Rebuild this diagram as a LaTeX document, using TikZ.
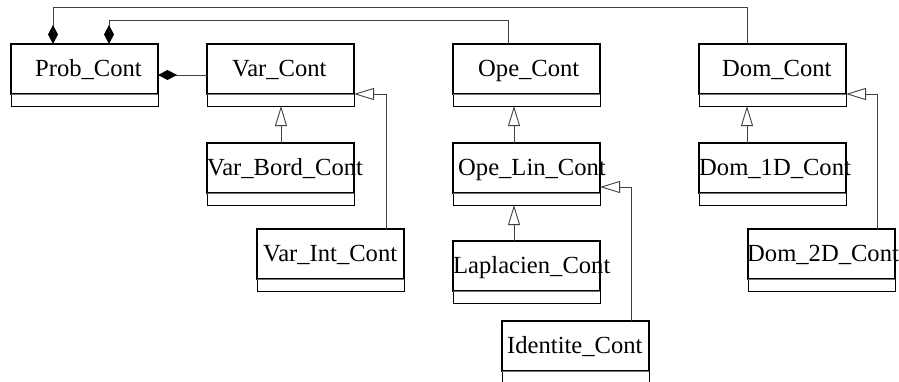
\documentclass[tikz,border=0pt]{standalone}
\usepackage{fontspec}
\setmainfont{Liberation Serif}
\usetikzlibrary{arrows.meta,calc}

\begin{document}
\begin{tikzpicture}[x=1pt,y=-1pt,
  classbox/.style={draw=black, line width=1pt, minimum width=147pt, minimum height=62pt,
    inner sep=0pt, outer sep=0pt, anchor=north west},
  classname/.style={font=\fontsize{24.6}{28}\selectfont, inner sep=0pt, anchor=base west},
  divider/.style={draw=black!55, line width=1pt},
  headbox/.style={draw=black, line width=1.6pt},
  link/.style={draw=black!75, line width=0.9pt},
  inherit/.style={link, -{Triangle[open, length=20pt, width=12pt, fill=white, line width=0.9pt]}},
  compose/.style={link, -{Diamond[length=19pt, width=10pt, black]}},
]
\useasboundingbox (0,0) rectangle (899,381);

% class boxes: name compartment (50pt) above an empty compartment (12pt)
\newcommand{\umlclass}[5]{%
  \node[classbox] (#1) at (#2,#3) {};
  \draw[headbox] (#1.north west) rectangle ++(147,50);
  \draw[divider] ($(#1.north west)+(0,50)$) -- ($(#1.north east)+(0,50)$);
  \node[classname] (#1-name) at (#4,#3+32) {#5};
}

\umlclass{prob}{11}{44}{35}{Prob\_Cont}
\umlclass{var}{207}{44}{232}{Var\_Cont}
\umlclass{varbord}{207}{143}{207}{Var\_Bord\_Cont}
\umlclass{varint}{257}{229}{263}{Var\_Int\_Cont}
\umlclass{ope}{453}{44}{478}{Ope\_Cont}
\umlclass{opelin}{453}{143}{458}{Ope\_Lin\_Cont}
\umlclass{lap}{453}{241}{453}{Laplacien\_Cont}
\umlclass{ident}{502}{321}{507}{Identite\_Cont}
\umlclass{dom}{699}{44}{722}{Dom\_Cont}
\umlclass{domone}{699}{143}{699}{Dom\_1D\_Cont}
\umlclass{domtwo}{748}{229}{747}{Dom\_2D\_Cont}

% compositions into Prob_Cont
\draw[compose] ($(dom.north west)+(48,0)$) -- ++(0,-37) -| ($(prob.north west)+(42,0)$);
\draw[compose] ($(ope.north west)+(55,0)$) -- ++(0,-24) -| ($(prob.north west)+(98,0)$);
\draw[compose] ($(var.north west)+(0,31)$) -- ($(prob.north east)+(0,31)$);

% generalizations
\draw[inherit] ($(varbord.north west)+(74,0)$) -- ($(var.south west)+(74,0)$);
\draw[inherit] ($(varint.north west)+(129,0)$) |- ($(var.north east)+(0,50)$);
\draw[inherit] ($(opelin.north west)+(61,0)$) -- ($(ope.south west)+(61,0)$);
\draw[inherit] ($(lap.north west)+(61,0)$) -- ($(opelin.south west)+(61,0)$);
\draw[inherit] ($(ident.north west)+(129,0)$) |- ($(opelin.north east)+(0,44)$);
\draw[inherit] ($(domone.north west)+(48,0)$) -- ($(dom.south west)+(48,0)$);
\draw[inherit] ($(domtwo.north west)+(129,0)$) |- ($(dom.north east)+(0,50)$);
\end{tikzpicture}
\end{document}
